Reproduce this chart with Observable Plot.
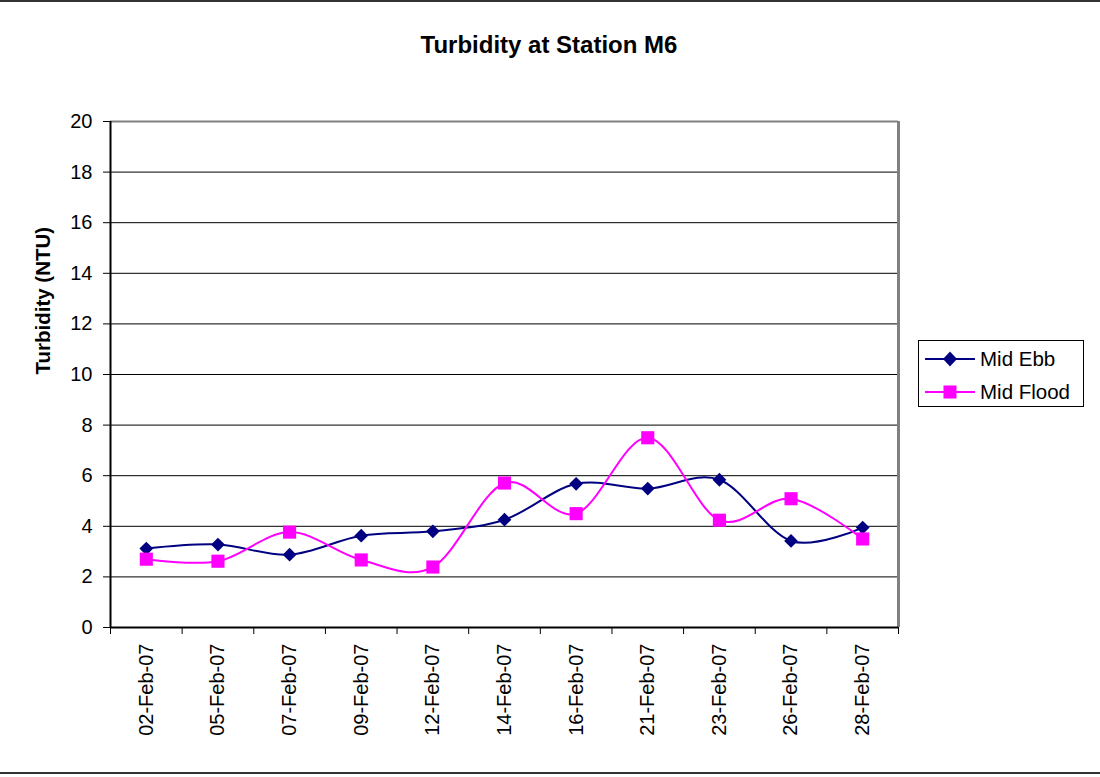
<!DOCTYPE html>
<html>
<head>
<meta charset="utf-8">
<script src="https://cdn.jsdelivr.net/npm/d3@7"></script>
<script src="https://cdn.jsdelivr.net/npm/@observablehq/plot@0.6"></script>
<style>
  html, body { margin: 0; padding: 0; background: #fff; }
  #wrap { position: relative; width: 1100px; height: 777px; font-family: "Liberation Sans", Arial, sans-serif; overflow: hidden; }
  #topline { position: absolute; left: 0; top: 0; width: 1100px; height: 2px; background: #333; }
  #botline { position: absolute; left: 0; top: 772px; width: 1100px; height: 2px; background: #333; }
  #title { position: absolute; left: 0; width: 1098px; top: 31px; text-align: center; font-weight: bold; font-size: 24px; color: #000; }
  #legend { position: absolute; left: 918px; top: 340px; width: 164px; height: 65px; border: 1px solid #000; background: #fff; }
  .row { position: absolute; left: 6px; height: 30px; display: flex; align-items: center; font-size: 20.5px; color: #000; }
  .row svg { margin-right: 3px; }
  #chart { position: absolute; left: 0; top: 0; }
</style>
</head>
<body>
<div id="wrap">
  <div id="chart"></div>
  <div id="topline"></div>
  <div id="botline"></div>
  <div id="title"></div>
  <div id="legend"></div>
</div>
<script>
const title = "Turbidity at Station M6";
const yLabel = "Turbidity (NTU)";
const dates = ["02-Feb-07","05-Feb-07","07-Feb-07","09-Feb-07","12-Feb-07","14-Feb-07","16-Feb-07","21-Feb-07","23-Feb-07","26-Feb-07","28-Feb-07"];
const seriesNames = ["Mid Ebb", "Mid Flood"];
const midEbb = [3.12, 3.28, 2.88, 3.63, 3.80, 4.26, 5.68, 5.49, 5.84, 3.42, 3.95];
const midFlood = [2.70, 2.62, 3.77, 2.67, 2.39, 5.71, 4.50, 7.50, 4.24, 5.09, 3.50];
const yTicks = [0, 2, 4, 6, 8, 10, 12, 14, 16, 18, 20];
const colors = ["#000080", "#FF00FF"];
const symbols = ["diamond2", "square"];

const rows = [];
[midEbb, midFlood].forEach((vals, s) => vals.forEach((v, i) => rows.push({i, date: dates[i], value: v, series: seriesNames[s]})));

document.getElementById("title").textContent = title;

const n = dates.length;
const boundaries = d3.range(n + 1).map(i => i - 0.5);

const chart = Plot.plot({
  width: 1100,
  height: 777,
  marginLeft: 110,
  marginRight: 202,
  marginTop: 121,
  marginBottom: 150,
  style: {fontFamily: "Liberation Sans, Arial, sans-serif", color: "#000", background: "transparent"},
  x: {type: "linear", domain: [-0.5, n - 0.5]},
  y: {domain: [0, 20]},
  marks: [
    Plot.ruleY(yTicks.filter(t => t > 0 && t < 20), {stroke: "#000", strokeWidth: 1}),
    Plot.ruleY([20], {stroke: "#808080", strokeWidth: 2}),
    Plot.ruleX([n - 0.5], {stroke: "#808080", strokeWidth: 3}),
    Plot.axisY({ticks: yTicks, tickSize: 7, tickPadding: 11, fontSize: 20, label: null, tickFormat: d => String(d)}),
    Plot.axisX({ticks: boundaries, tickSize: 7, tickFormat: () => "", label: null}),
    Plot.axisX({ticks: d3.range(n), tickSize: 0, tickPadding: 16, tickRotate: -90, fontSize: 20, tickFormat: i => dates[i], label: null, style: {letterSpacing: "0.6px"}}),
    Plot.ruleX([-0.5], {stroke: "#000", strokeWidth: 2}),
    Plot.ruleY([0], {stroke: "#000", strokeWidth: 2}),
    Plot.text([yLabel], {frameAnchor: "left", rotate: -90, dx: -67, fontWeight: "bold", fontSize: 20.5}),
    Plot.line(rows, {x: "i", y: "value", z: "series", stroke: "series", curve: "cardinal", tension: 0, strokeWidth: 2}),
    Plot.dot(rows.filter(d => d.series === seriesNames[0]), {x: "i", y: "value", symbol: () => symbols[0], fill: colors[0], r: 6.2, stroke: "none"}),
    Plot.dot(rows.filter(d => d.series === seriesNames[1]), {x: "i", y: "value", symbol: () => symbols[1], fill: colors[1], r: 7.4, stroke: "none"})
  ],
  color: {domain: seriesNames, range: colors},
  symbol: {domain: symbols, range: symbols}
});
document.getElementById("chart").appendChild(chart);

// legend
const legend = document.getElementById("legend");
seriesNames.forEach((name, s) => {
  const row = document.createElement("div");
  row.className = "row";
  row.style.top = (s === 0 ? 3 : 36) + "px";
  const mk = s === 0
    ? `<polygon points="25,7.5 32,15 25,22.5 18,15" fill="${colors[0]}"/>`
    : `<rect x="18.5" y="8.5" width="13" height="13" fill="${colors[1]}"/>`;
  row.innerHTML = `<svg width="52" height="30"><line x1="0" x2="50" y1="15" y2="15" stroke="${colors[s]}" stroke-width="2"/>${mk}</svg><span>${name}</span>`;
  legend.appendChild(row);
});
</script>
</body>
</html>
